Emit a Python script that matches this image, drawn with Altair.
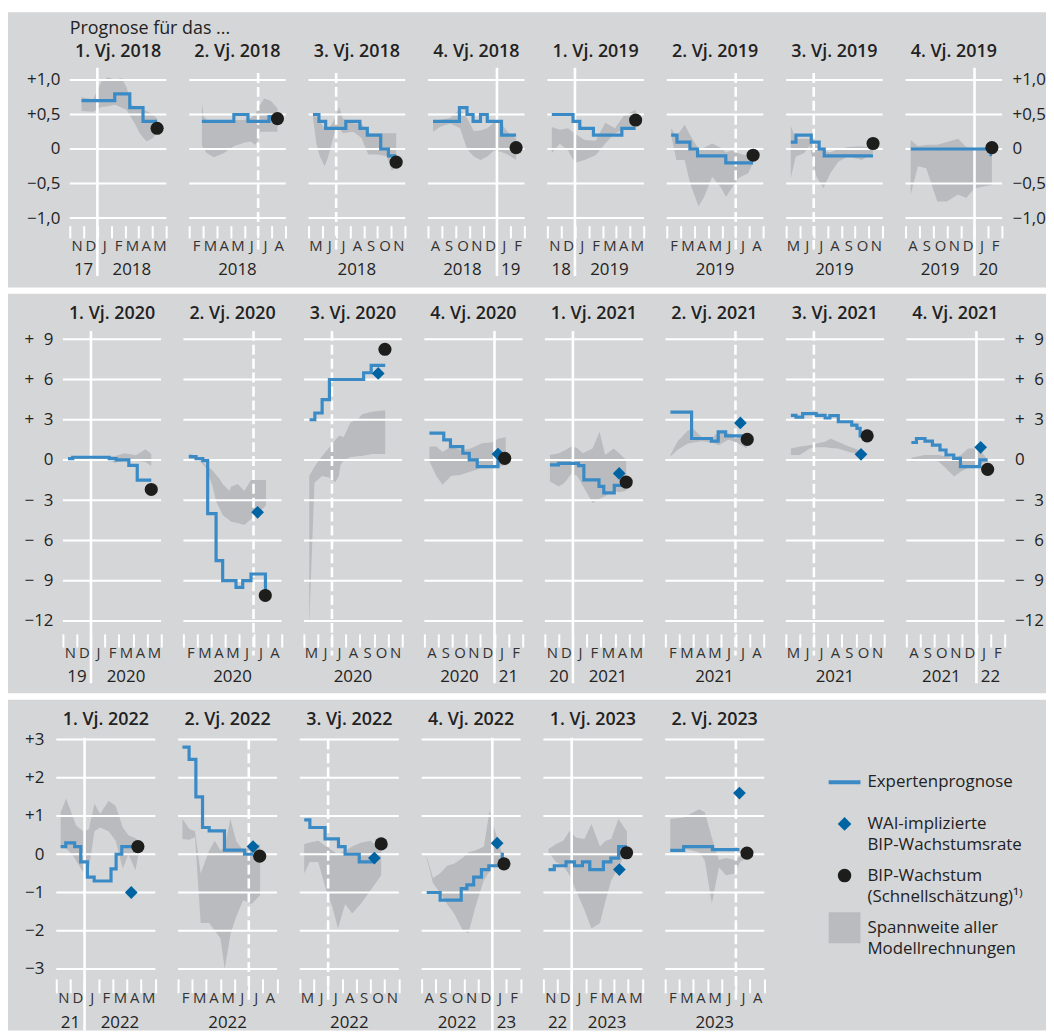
import altair as alt
import pandas as pd

FONT = "Open Sans"
BG = "#d5d6d8"
AREA = "#b9bbbe"
BLUE = "#3a8ac6"
WAI_BLUE = "#0064a3"
DOT = "#1d1d1b"
TEXT = "#222222"
MONTH_TEXT = "#333333"
PAGE_BG = "white"

TITLES = ["1. Vj. 2018", "2. Vj. 2018", "3. Vj. 2018", "4. Vj. 2018",
          "1. Vj. 2019", "2. Vj. 2019", "3. Vj. 2019", "4. Vj. 2019",
          "1. Vj. 2020", "2. Vj. 2020", "3. Vj. 2020", "4. Vj. 2020",
          "1. Vj. 2021", "2. Vj. 2021", "3. Vj. 2021", "4. Vj. 2021",
          "1. Vj. 2022", "2. Vj. 2022", "3. Vj. 2022", "4. Vj. 2022",
          "1. Vj. 2023", "2. Vj. 2023"]

MONTHS = [["N", "D", "J", "F", "M", "A", "M"],
          ["F", "M", "A", "M", "J", "J", "A"],
          ["M", "J", "J", "A", "S", "O", "N"],
          ["A", "S", "O", "N", "D", "J", "F"]]
VLINE_MONTH = [2, 5, 2, 5]
VLINE_SOLID = [True, False, False, True]

YEAR_LABELS = [
    [(1.0, "17"), (4.5, "2018")], [(3.5, "2018")], [(3.5, "2018")], [(2.5, "2018"), (6.0, "19")],
    [(1.0, "18"), (4.5, "2019")], [(3.5, "2019")], [(3.5, "2019")], [(2.5, "2019"), (6.0, "20")],
    [(1.0, "19"), (4.5, "2020")], [(3.5, "2020")], [(3.5, "2020")], [(2.5, "2020"), (6.0, "21")],
    [(1.0, "20"), (4.5, "2021")], [(3.5, "2021")], [(3.5, "2021")], [(2.5, "2021"), (6.0, "22")],
    [(1.0, "21"), (4.5, "2022")], [(3.5, "2022")], [(3.5, "2022")], [(2.5, "2022"), (6.0, "23")],
    [(1.0, "22"), (4.5, "2023")], [(3.5, "2023")],
]

EXPERT = [
    [(0.85, 0.7), (3.26, 0.8), (4.35, 0.6), (5.31, 0.4)],
    [(0.92, 0.4), (3.24, 0.5), (4.26, 0.4), (5.79, 0.47)],
    [(0.32, 0.5), (0.75, 0.4), (1.24, 0.3), (2.7, 0.4), (3.72, 0.3), (4.26, 0.2), (5.23, 0.0), (5.79, -0.1)],
    [(0.37, 0.4), (2.28, 0.6), (2.83, 0.5), (3.27, 0.4), (3.81, 0.5), (4.3, 0.4), (5.33, 0.2)],
    [(0.32, 0.5), (1.86, 0.4), (2.35, 0.3), (3.34, 0.2), (5.4, 0.3)],
    [(0.32, 0.2), (0.74, 0.1), (1.68, 0.0), (2.23, -0.1), (4.28, -0.2)],
    [(0.34, 0.1), (0.71, 0.2), (1.82, 0.1), (2.39, 0.0), (2.76, -0.1)],
    [(0.37, 0.0), (6.2, -0.08)],
    [(0.36, 0.1), (0.7, 0.2), (3.3, 0.1), (3.8, 0.0), (4.7, -0.4), (5.3, -1.5)],
    [(0.38, 0.25), (0.9, 0.1), (1.38, -0.05), (1.73, -4.0), (2.33, -7.5), (2.8, -9.0), (3.75, -9.5),
     (4.23, -9.0), (4.82, -8.5), (5.85, -9.8)],
    [(0.4, 3.0), (0.78, 3.5), (1.3, 4.5), (1.82, 6.0), (4.26, 6.5), (4.8, 7.05)],
    [(0.36, 2.0), (1.38, 1.5), (1.86, 1.0), (2.74, 0.5), (3.2, 0.0), (3.77, -0.5), (5.25, 0.4)],
    [(0.36, -0.37), (0.97, -0.25), (2.4, -0.42), (2.78, -1.48), (3.86, -1.97), (4.2, -2.46), (4.95, -1.9)],
    [(0.36, 3.57), (1.87, 1.6), (3.28, 1.4), (3.77, 2.1), (4.3, 1.8)],
    [(0.36, 3.33), (0.72, 3.2), (1.2, 3.45), (2.17, 3.33), (2.8, 3.13), (3.14, 3.3), (3.74, 2.85),
     (4.7, 2.6), (5.07, 2.35), (5.3, 1.8)],
    [(0.36, 1.3), (0.72, 1.6), (1.33, 1.4), (1.86, 1.1), (2.4, 0.74), (2.83, 0.37), (3.38, 0.12),
     (3.86, -0.5), (5.24, 0.0)],
    [(0.31, 0.2), (0.67, 0.3), (1.3, 0.2), (1.73, -0.2), (2.2, -0.6), (2.68, -0.7), (3.87, -0.38),
     (4.23, 0.0), (4.63, 0.2), (5.6, 0.1)],
    [(0.31, 2.8), (0.78, 2.48), (1.26, 1.5), (1.73, 0.7), (2.2, 0.61), (3.28, 0.11), (4.7, 0.0)],
    [(0.31, 0.9), (0.71, 0.7), (1.78, 0.4), (2.73, 0.2), (3.2, 0.0), (4.2, -0.2)],
    [(0.36, -1.0), (1.31, -1.2), (2.8, -0.9), (3.2, -0.8), (3.68, -0.6), (4.23, -0.4), (4.75, -0.3), (5.7, 0.0)],
    [(0.36, -0.4), (0.77, -0.3), (1.6, -0.2), (2.2, -0.3), (2.76, -0.2), (3.28, -0.4), (4.24, -0.2),
     (4.77, -0.1), (5.32, 0.2)],
    [(0.36, 0.1), (1.31, 0.2), (3.34, 0.12)],
]
EXPERT_END = [6.33, 6.4, 6.35, 6.39, 6.4, 6.26, 6.3, 6.26, 6.3, 5.9, 5.8, 5.35,
              5.8, 5.77, 5.8, 5.8, 5.77, 5.3, 5.2, 5.82, 5.9, 5.25]

RANGE = [
    [(0.85, 0.55, 0.75), (1.69, 0.54, 0.72), (2.29, 0.61, 0.97), (2.78, 0.62, 1.04), (3.26, 0.64, 1.0),
     (3.74, 0.6, 1.03), (4.11, 0.57, 0.9), (4.47, 0.45, 0.65), (4.71, 0.37, 0.6), (5.07, 0.23, 0.58),
     (5.56, 0.11, 0.55), (6.04, 0.16, 0.5), (6.33, 0.27, 0.44)],
    [(0.92, 0.05, 0.67), (1.05, 0.0, 0.47), (1.29, -0.06, 0.42), (1.78, -0.12, 0.42), (2.5, -0.06, 0.42),
     (3.24, 0.04, 0.42), (3.97, 0.09, 0.42), (4.45, 0.11, 0.45), (4.82, 0.06, 0.5), (4.99, 0.15, 0.61),
     (5.18, 0.25, 0.65), (5.43, 0.25, 0.73), (5.91, 0.25, 0.7), (6.4, 0.25, 0.59)],
    [(0.32, 0.45, 0.5), (0.56, 0.09, 0.47), (0.8, -0.1, 0.4), (1.17, -0.25, 0.3), (1.41, -0.12, 0.3),
     (1.65, 0.06, 0.35), (1.9, 0.25, 0.44), (2.21, 0.3, 0.61), (2.5, 0.23, 0.44), (3.24, 0.25, 0.37),
     (3.84, 0.16, 0.37), (4.33, -0.08, 0.23), (4.94, -0.08, 0.23), (5.67, -0.1, 0.23), (6.03, -0.32, 0.23),
     (6.35, -0.25, 0.23)],
    [(0.37, 0.25, 0.42), (0.86, 0.32, 0.42), (1.6, 0.37, 0.45), (2.33, 0.3, 0.58), (2.83, 0.0, 0.45),
     (3.32, -0.11, 0.26), (3.81, -0.16, 0.27), (4.3, -0.11, 0.3), (4.79, -0.02, 0.38), (5.28, -0.04, 0.38),
     (5.77, -0.08, 0.25), (6.39, -0.16, 0.15)],
    [(0.32, -0.06, 0.32), (0.9, 0.08, 0.28), (1.5, -0.02, 0.3), (2.0, -0.2, 0.22), (2.7, -0.16, 0.13),
     (3.5, -0.09, 0.12), (4.2, 0.08, 0.38), (4.9, 0.23, 0.3), (5.5, 0.28, 0.47), (6.4, 0.33, 0.57)],
    [(0.32, 0.2, 0.3), (0.7, -0.16, 0.18), (1.3, -0.16, 0.35), (1.7, -0.5, 0.2), (2.3, -0.83, 0.0),
     (2.7, -0.7, 0.02), (3.3, -0.4, 0.08), (3.9, -0.55, 0.02), (4.3, -0.69, -0.05), (4.7, -0.57, -0.02),
     (5.2, -0.42, -0.06), (5.9, -0.35, -0.1), (6.26, -0.2, -0.12)],
    [(0.34, -0.42, 0.33), (0.7, -0.11, 0.15), (1.3, -0.06, 0.15), (1.7, 0.05, 0.15), (2.2, -0.4, 0.05),
     (2.7, -0.57, -0.02), (3.2, -0.35, -0.05), (3.8, -0.18, 0.0), (4.5, -0.11, 0.03), (5.5, -0.16, 0.04),
     (6.3, -0.06, 0.02)],
    [(0.37, -0.66, 0.13), (0.9, -0.25, 0.04), (1.5, -0.28, 0.06), (2.3, -0.76, 0.06), (3.0, -0.76, 0.1),
     (3.8, -0.66, 0.15), (4.4, -0.71, 0.03), (5.0, -0.57, 0.01), (6.26, -0.52, 0.03)],
    [(0.36, 0.0, 0.2), (2.0, 0.05, 0.25), (3.2, 0.0, 0.3), (3.7, -0.2, 0.3), (4.4, -0.05, 0.5),
     (5.2, -0.05, 0.35), (5.9, -0.15, 0.8), (6.3, -0.45, 0.45)],
    [(0.43, 0.05, 0.5), (1.2, -0.1, 0.1), (1.62, -0.6, -0.4), (2.09, -2.0, -0.8), (2.33, -3.1, -1.1),
     (2.57, -3.6, -1.4), (2.8, -4.1, -1.8), (3.28, -4.5, -2.3), (3.4, -4.6, -2.0), (3.87, -4.7, -1.8),
     (4.35, -4.85, -2.3), (4.82, -4.4, -1.5), (5.3, -4.0, -1.5), (5.89, -3.4, -1.5)],
    [(0.38, -12.4, -1.2), (0.75, -1.7, -0.5), (1.3, -1.2, 0.3), (1.78, -1.3, 0.9), (2.25, -1.65, 1.5),
     (2.49, -1.2, 1.8), (2.61, -0.4, 1.8), (2.84, 0.0, 1.7), (3.32, 0.2, 2.8), (3.91, 0.3, 3.1),
     (4.15, 0.3, 3.4), (4.86, 0.45, 3.6), (5.8, 0.45, 3.7)],
    [(0.36, -0.1, 1.0), (0.85, -1.2, 1.0), (1.3, -1.85, 0.6), (1.9, -1.2, 1.0), (2.6, -1.1, 0.75),
     (3.3, -0.86, 0.85), (4.1, -0.6, 1.25), (4.8, -0.5, 1.3), (5.3, -0.5, 1.6), (5.8, -0.4, 1.7)],
    [(0.36, -1.6, 0.37), (1.0, -1.97, 0.5), (1.4, -1.7, 0.7), (1.9, -1.0, 1.0), (2.3, -1.2, 0.9),
     (2.7, -1.9, 0.5), (3.4, -3.2, 0.85), (3.9, -2.9, 2.1), (4.3, -2.7, 0.37), (4.9, -2.3, 0.86),
     (5.3, -2.4, 0.5), (5.8, -2.3, 0.0)],
    [(0.36, 0.25, 0.37), (0.85, 0.74, 1.35), (1.6, 1.23, 2.2), (2.0, 1.3, 2.3), (2.6, 1.4, 1.7),
     (3.3, 1.3, 1.6), (3.8, 1.1, 2.1), (4.5, 1.5, 2.0), (5.0, 1.35, 1.9), (5.8, 0.86, 1.6)],
    [(0.36, 0.37, 0.86), (1.0, 0.37, 1.0), (1.7, 0.86, 1.1), (2.2, 0.95, 1.23), (2.8, 0.95, 1.35),
     (3.2, 0.9, 1.6), (3.7, 0.85, 1.35), (4.5, 0.6, 1.0), (5.3, 0.4, 0.7)],
    [(0.36, -0.12, 0.17), (1.3, 0.0, 0.37), (2.3, -0.12, 0.37), (2.8, -0.6, 0.25), (3.4, -1.23, 0.12),
     (3.9, -0.86, 0.37), (4.4, -0.6, 0.86), (5.2, -0.36, 0.86), (5.8, -0.12, 0.0)],
    [(0.31, 0.18, 1.09), (0.7, 0.15, 1.46), (1.1, 0.0, 1.05), (1.4, -0.16, 0.75), (1.9, -0.47, 0.6),
     (2.3, -0.4, 0.65), (2.7, 0.6, 1.32), (3.1, 0.7, 1.05), (3.7, 0.6, 1.4), (4.2, 0.35, 1.26),
     (4.7, -0.38, 0.7), (5.1, 0.0, 0.5), (5.6, -0.42, 0.42), (5.8, 0.0, 0.35)],
    [(0.31, 0.4, 0.92), (0.8, 0.38, 0.66), (1.2, 0.45, 0.6), (1.6, -1.8, -0.5), (2.2, -1.8, 0.1),
     (2.6, -2.0, 0.35), (3.0, -2.2, 0.1), (3.3, -3.0, 0.2), (3.7, -2.1, 0.92), (4.1, -1.64, 0.35),
     (4.6, -1.2, 0.1), (5.2, -1.3, 0.2), (5.8, -1.07, 0.27)],
    [(0.31, -0.5, 0.27), (0.7, -0.2, 0.31), (1.3, -0.2, 0.35), (1.8, -0.86, 0.22), (2.3, -1.38, 0.1),
     (2.7, -1.94, 0.0), (3.2, -1.3, 0.1), (3.7, -1.55, 0.2), (4.3, -1.3, 0.3), (5.0, -0.94, 0.35),
     (5.75, -0.55, 0.1)],
    [(0.36, -0.1, -0.05), (0.8, -0.75, -0.62), (1.3, -1.0, -0.5), (1.8, -1.3, -0.3), (2.3, -1.55, -0.25),
     (2.9, -1.98, -0.1), (3.3, -2.07, 0.05), (3.8, -1.38, 0.1), (4.4, -0.68, 0.2), (4.8, -0.45, 1.13),
     (5.2, -0.34, 0.6), (5.7, -0.1, 0.0)],
    [(0.36, 0.05, 0.14), (0.9, -0.2, 0.27), (1.4, -0.3, 0.35), (1.85, -0.55, 0.61), (2.3, -0.94, 0.44),
     (2.9, -1.46, 0.4), (3.4, -1.94, 0.79), (4.0, -1.8, 0.2), (4.4, -1.2, 0.35), (4.8, -0.68, 0.4),
     (5.3, -0.35, 0.92), (5.9, 0.1, 0.6)],
    [(0.36, 0.1, 0.92), (1.3, 0.15, 0.96), (2.4, 0.05, 1.18), (2.8, -0.16, 1.1), (3.3, -1.29, 0.44),
     (3.8, -0.34, -0.15), (4.3, -0.55, -0.1), (4.9, -0.5, -0.15), (5.3, -0.2, -0.05), (5.9, -0.05, -0.05)],
]

FLASH = [(6.33, 0.3), (6.4, 0.44), (6.35, -0.19), (6.39, 0.02), (6.4, 0.42), (6.26, -0.09), (6.3, 0.08),
         (6.26, 0.02), (6.3, -2.2), (5.84, -10.1), (5.78, 8.25), (5.73, 0.12), (5.8, -1.65), (5.84, 1.53),
         (5.8, 1.8), (5.8, -0.7), (5.77, 0.2), (5.77, -0.05), (5.75, 0.27), (5.82, -0.25), (5.88, 0.04),
         (5.78, 0.03)]

WAI = [None, None, None, None, None, None, None, None, None,
       (5.29, -3.9), (5.3, 6.45), (5.25, 0.44), (5.3, -1.0), (5.35, 2.76), (5.36, 0.42), (5.3, 0.94),
       (5.3, -1.0), (5.3, 0.2), (5.27, -0.1), (5.34, 0.29), (5.37, -0.4), (5.25, 1.6)]

ROW1_TICKS = [1, 0.5, 0, -0.5, -1]
ROW1_LEFT = ["+1,0", "+0,5", "0\u2007\u2008", "\u22120,5", "\u22121,0"]
ROW1_RIGHT = ["+1,0", "+0,5", "\u2007\u20080", "\u22120,5", "\u22121,0"]
ROW2_TICKS = [9, 6, 3, 0, -3, -6, -9, -12]
ROW2_LEFT = ["+\u20079", "+\u20076", "+\u20073", "0", "\u2212\u20073", "\u2212\u20076", "\u2212\u20079", "\u221212"]
ROW2_RIGHT = ["+\u20079", "+\u20076", "+\u20073", "\u2007\u20070", "\u2212\u20073", "\u2212\u20076", "\u2212\u20079", "\u221212"]
ROW3_TICKS = [3, 2, 1, 0, -1, -2, -3]
ROW3_LEFT = ["+3", "+2", "+1", "0", "\u22121", "\u22122", "\u22123"]

LEGEND_LABELS = ["Expertenprognose", "WAI-implizierte\nBIP-Wachstumsrate",
                 "BIP-Wachstum\n(Schnellsch\u00e4tzung)\u00b9\u207e", "Spannweite aller\nModellrechnungen"]

ROWS = [
    dict(idx=list(range(0, 8)), h=139, dom=[-1, 1], ticks=ROW1_TICKS, left=ROW1_LEFT, right=ROW1_RIGHT,
         W=97.2, S=22.2, PL=69.3, top=68.3, bot=70, title_off=23, tick_off=7.7, tick_len=12.3,
         month_dy=27.5, year_dy=52, solid=(12.3, 58.3), dashed=(7, 31.7), lpad=10),
    dict(idx=list(range(8, 16)), h=283.6, dom=[-12, 9], ticks=ROW2_TICKS, left=ROW2_LEFT, right=ROW2_RIGHT,
         W=98.8, S=22.3, PL=62.5, top=45.7, bot=72.7, title_off=20, tick_off=13, tick_len=13.3,
         month_dy=31.4, year_dy=56.4, solid=(8.4, 62.7), dashed=(8.4, 34.7), lpad=10),
    dict(idx=list(range(16, 22)), h=231, dom=[-3, 3], ticks=ROW3_TICKS, left=ROW3_LEFT, right=None,
         W=99.7, S=22.6, PL=56.5, top=40, bot=62, title_off=14.5, tick_off=10, tick_len=14,
         month_dy=29, year_dy=54, solid=(1.7, 62), dashed=(0, 34), lpad=12.5),
]
CANVAS_W = 1045


def label_expr(ticks, labels):
    s = "''"
    for t, l in reversed(list(zip(ticks, labels))):
        s = f"datum.value == {t} ? '{l}' : ({s})"
    return s


def backdrop(R):
    # first, empty cell of each row: draws the grey band behind the whole row
    W0 = R["PL"] - 8 - R["S"]
    rect = alt.Chart(pd.DataFrame({"a": [0]})).mark_rect(color=BG).encode(
        x=alt.value(0), x2=alt.value(CANVAS_W),
        y=alt.value(-R["top"]), y2=alt.value(R["h"] + R["bot"]))
    return alt.layer(rect).properties(width=W0, height=R["h"])


def panel(i, R, first, last):
    q = i % 4
    W, h = R["W"], R["h"]
    xs = alt.Scale(domain=[0, 7], nice=False, zero=False)
    ys = alt.Scale(domain=R["dom"], nice=False, zero=False)
    months = MONTHS[q] + [""]
    mexpr = "[" + ",".join(f"'{m}'" for m in months) + "][datum.value]"
    xaxis = alt.Axis(values=list(range(8)), labelExpr=mexpr, domain=False, grid=False, ticks=True,
                     tickSize=R["tick_len"], tickColor="white", tickWidth=2, offset=R["tick_off"],
                     labelPadding=R["month_dy"] - R["tick_off"] - R["tick_len"], labelBaseline="middle",
                     labelAlign="center", labelOffset=W / 14, labelFlush=False, labelOverlap=False,
                     labelBound=False, labelFont=FONT, labelFontSize=15, labelColor=MONTH_TEXT,
                     title=None, zindex=1)
    if first:
        yaxis = alt.Axis(orient="left", values=R["ticks"], labelExpr=label_expr(R["ticks"], R["left"]),
                         domain=False, ticks=False, tickSize=0, grid=False, labelPadding=R["lpad"],
                         labelFont=FONT, labelFontSize=17, labelColor=TEXT, labelBaseline="middle",
                         title=None, zindex=1)
    elif last and R["right"] is not None:
        yaxis = alt.Axis(orient="right", values=R["ticks"], labelExpr=label_expr(R["ticks"], R["right"]),
                         domain=False, ticks=False, tickSize=0, grid=False, labelPadding=10,
                         labelAlign="left", labelFont=FONT, labelFontSize=17, labelColor=TEXT,
                         labelBaseline="middle", title=None, zindex=1)
    else:
        yaxis = None

    X = lambda f: alt.X(f, scale=xs, axis=xaxis)
    Y = lambda f: alt.Y(f, scale=ys, axis=yaxis)
    layers = []
    rng = pd.DataFrame(RANGE[i], columns=["x", "lo", "hi"])
    layers.append(alt.Chart(rng).mark_area(color=AREA, opacity=1).encode(
        x=X("x:Q"), y=Y("lo:Q"), y2="hi:Q"))
    grid = pd.DataFrame({"v": R["ticks"], "x0": 0, "x1": 7})
    layers.append(alt.Chart(grid).mark_rule(color="white", strokeWidth=2).encode(
        x=X("x0:Q"), x2="x1:Q", y=Y("v:Q")))
    solid = VLINE_SOLID[q]
    ext = R["solid"] if solid else R["dashed"]
    vkw = dict(color="white", strokeWidth=2.6)
    if not solid:
        vkw["strokeDash"] = [10, 4]
    layers.append(alt.Chart(pd.DataFrame({"x": [VLINE_MONTH[q]]})).mark_rule(**vkw).encode(
        x=X("x:Q"), y=alt.value(-ext[0]), y2=alt.value(h + ext[1])))
    pts = EXPERT[i] + [(EXPERT_END[i], EXPERT[i][-1][1])]
    layers.append(alt.Chart(pd.DataFrame(pts, columns=["x", "v"])).mark_line(
        interpolate="step-after", color=BLUE, strokeWidth=3.2).encode(x=X("x:Q"), y=Y("v:Q")))
    if WAI[i] is not None:
        layers.append(alt.Chart(pd.DataFrame([WAI[i]], columns=["x", "v"])).mark_point(
            shape="diamond", filled=True, size=165, color=WAI_BLUE, opacity=1, strokeWidth=0).encode(
            x=X("x:Q"), y=Y("v:Q")))
    layers.append(alt.Chart(pd.DataFrame([FLASH[i]], columns=["x", "v"])).mark_circle(
        size=175, color=DOT, opacity=1).encode(x=X("x:Q"), y=Y("v:Q")))
    layers.append(alt.Chart(pd.DataFrame(YEAR_LABELS[i], columns=["x", "t"])).mark_text(
        font=FONT, fontSize=17, color=TEXT, baseline="middle", align="center").encode(
        x=X("x:Q"), y=alt.value(h + R["year_dy"]), text="t:N"))
    layers.append(alt.Chart(pd.DataFrame({"x": [3.5], "t": [TITLES[i]]})).mark_text(
        font=FONT, fontSize=18, fontWeight=600, color=TEXT, baseline="alphabetic", align="center").encode(
        x=X("x:Q"), y=alt.value(-R["title_off"]), text="t:N"))
    if i == 0:
        layers.append(alt.Chart(pd.DataFrame({"x": [0], "t": ["Prognose f\u00fcr das ..."]})).mark_text(
            font=FONT, fontSize=18, color=TEXT, baseline="alphabetic", align="left").encode(
            x=X("x:Q"), y=alt.value(-46.3), text="t:N"))
    return alt.layer(*layers).properties(width=W, height=h)


def legend_panel(R):
    base = pd.DataFrame({"a": [0]})
    tx = 81
    tkw = dict(font=FONT, fontSize=17, color=TEXT, align="left", baseline="middle",
               lineBreak="\n", lineHeight=21)
    layers = [
        alt.Chart(base).mark_rule(color=BLUE, strokeWidth=4).encode(
            x=alt.value(42), x2=alt.value(74), y=alt.value(43)),
        alt.Chart(base).mark_point(shape="diamond", filled=True, size=190, color=WAI_BLUE,
                                   opacity=1, strokeWidth=0).encode(x=alt.value(58), y=alt.value(85)),
        alt.Chart(base).mark_circle(size=185, color=DOT, opacity=1).encode(
            x=alt.value(58), y=alt.value(137)),
        alt.Chart(base).mark_rect(color=AREA).encode(
            x=alt.value(42), x2=alt.value(74), y=alt.value(174), y2=alt.value(205)),
    ]
    for lab, yy in zip(LEGEND_LABELS, [43, 85.5, 137.5, 190]):
        layers.append(alt.Chart(pd.DataFrame({"t": [lab]})).mark_text(**tkw).encode(
            x=alt.value(tx), y=alt.value(yy), text="t:N"))
    return alt.layer(*layers).properties(width=230, height=R["h"])


rows = []
for r, R in enumerate(ROWS):
    panels = [backdrop(R)]
    n = len(R["idx"])
    for k, i in enumerate(R["idx"]):
        panels.append(panel(i, R, k == 0, k == n - 1))
    if r == 2:
        panels.append(legend_panel(R))
    rows.append(alt.hconcat(*panels, spacing=R["S"], bounds="flush"))

chart = alt.ConcatChart(concat=rows, columns=1, spacing=6, align="none", bounds="full",
                        center=False).properties(
    padding=0, background=PAGE_BG
).configure(font=FONT).configure_view(strokeWidth=0, stroke="transparent")

chart.save("out.html", embed_options={"renderer": "svg", "actions": False})
